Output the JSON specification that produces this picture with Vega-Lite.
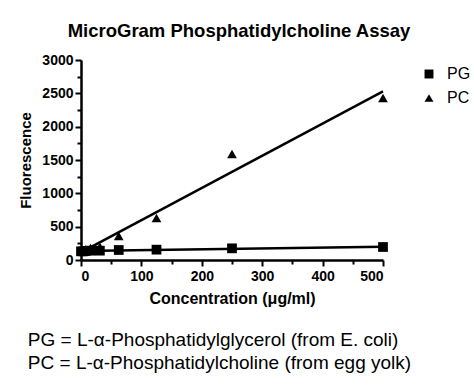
{
  "$schema": "https://vega.github.io/schema/vega-lite/v6.json",
  "padding": {"left": 18, "top": 21, "right": 5, "bottom": 5},
  "background": "white",
  "config": {
    "font": "Liberation Sans",
    "view": {"stroke": null},
    "axis": {
      "domainColor": "black", "domainWidth": 2.5, "tickColor": "black", "tickWidth": 2,
      "labelFont": "Liberation Sans", "labelFontWeight": "bold", "labelFontSize": 14, "labelColor": "black",
      "titleFont": "Liberation Sans", "titleFontWeight": "bold", "titleFontSize": 15, "titleColor": "black",
      "grid": false, "labelPadding": 2
    }
  },
  "title": {
    "text": ["PG = L-\u03b1-Phosphatidylglycerol (from E. coli)", "PC = L-\u03b1-Phosphatidylcholine (from egg yolk)"],
    "orient": "bottom", "anchor": "start", "fontSize": 19, "fontWeight": "normal", "font": "Liberation Sans",
    "color": "black", "lineHeight": 23, "offset": 25, "dx": 9
  },
  "vconcat": [
    {
      "width": 302,
      "height": 200,
      "title": {"text": "MicroGram Phosphatidylcholine Assay", "fontSize": 18.5, "fontWeight": "bold", "font": "Liberation Sans", "color": "black", "anchor": "middle", "offset": 13, "dx": 7},
      "data": {"values": [
        {"conc": 0, "fl": 130, "type": "PG"},
        {"conc": 3.9, "fl": 130, "type": "PG"},
        {"conc": 7.8, "fl": 135, "type": "PG"},
        {"conc": 15.6, "fl": 140, "type": "PG"},
        {"conc": 31.25, "fl": 140, "type": "PG"},
        {"conc": 62.5, "fl": 150, "type": "PG"},
        {"conc": 125, "fl": 155, "type": "PG"},
        {"conc": 250, "fl": 175, "type": "PG"},
        {"conc": 500, "fl": 195, "type": "PG"},
        {"conc": 0, "fl": 140, "type": "PC"},
        {"conc": 3.9, "fl": 150, "type": "PC"},
        {"conc": 7.8, "fl": 160, "type": "PC"},
        {"conc": 15.6, "fl": 180, "type": "PC"},
        {"conc": 31.25, "fl": 200, "type": "PC"},
        {"conc": 62.5, "fl": 360, "type": "PC"},
        {"conc": 125, "fl": 630, "type": "PC"},
        {"conc": 250, "fl": 1590, "type": "PC"},
        {"conc": 500, "fl": 2430, "type": "PC"}
      ]},
      "encoding": {
        "x": {"field": "conc", "type": "quantitative",
          "scale": {"domain": [0, 500], "nice": false},
          "axis": {"title": "Concentration (\u03bcg/ml)", "titleFontSize": 16, "format": "d", "values": [0,50,100,150,200,250,300,350,400,450,500],
            "labelExpr": "datum.value % 100 === 0 ? datum.label : ''",
            "tickSize": {"condition": {"test": "datum.value % 100 === 0", "value": 6}, "value": 4},
            "labelPadding": 3, "titlePadding": 7}},
        "y": {"field": "fl", "type": "quantitative",
          "scale": {"domain": [0, 3000], "nice": false},
          "axis": {"title": "Fluorescence", "format": "d", "values": [0,250,500,750,1000,1250,1500,1750,2000,2250,2500,2750,3000],
            "labelExpr": "datum.value % 500 === 0 ? datum.label : ''",
            "tickSize": {"condition": {"test": "datum.value % 500 === 0", "value": 6}, "value": 4},
            "titlePadding": 8}}
      },
      "layer": [
        {
          "transform": [{"regression": "fl", "on": "conc", "groupby": ["type"]}],
          "mark": {"type": "line", "color": "black", "strokeWidth": 2.5},
          "encoding": {"detail": {"field": "type"}}
        },
        {
          "mark": {"type": "point", "filled": true, "color": "black", "opacity": 1, "size": 95},
          "encoding": {
            "shape": {"field": "type", "type": "nominal",
              "scale": {"domain": ["PG", "PC"], "range": ["square", "triangle-up"]},
              "legend": {"title": null, "offset": 4, "labelFontSize": 16, "labelFont": "Liberation Sans", "labelColor": "black",
                "symbolSize": 80, "symbolFillColor": "black", "symbolStrokeColor": "black", "symbolOpacity": 1, "rowPadding": 8, "labelOffset": 10, "padding": 6}}
          }
        }
      ]
    }
  ]
}
